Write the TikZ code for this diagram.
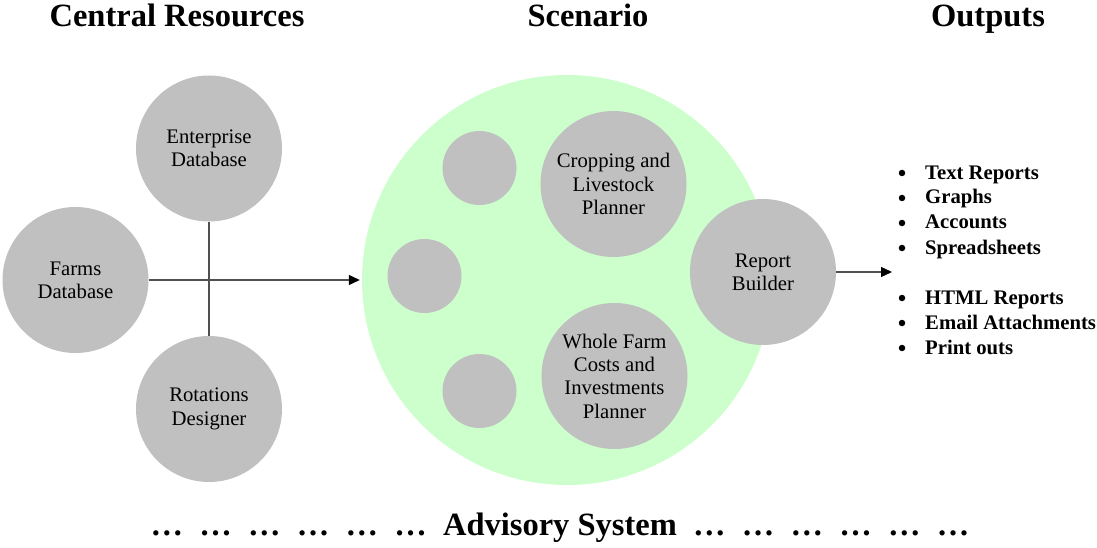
\documentclass[tikz,border=0pt]{standalone}
\usepackage{fontspec}
\setmainfont{Liberation Serif}
\usetikzlibrary{arrows.meta}
\definecolor{discgray}{HTML}{C0C0C0}
\definecolor{scengreen}{HTML}{CCFFCC}
\definecolor{linegray}{HTML}{505050}
\tikzset{
  disc/.style={circle, fill=discgray, draw=none, inner sep=0pt, minimum size=#1, align=center,
    font=\fontsize{20.7}{23.3}\selectfont},
  disc/.default=146pt,
  bigdisc/.style={circle, fill=scengreen, draw=none, inner sep=0pt, minimum size=410pt},
  heading/.style={font=\fontsize{32.5}{36}\selectfont\bfseries, anchor=base, inner sep=0pt},
  item/.style={font=\fontsize{20.7}{23.3}\selectfont\bfseries, anchor=base west, inner sep=0pt},
  bul/.style={circle, fill=black, draw=none, inner sep=0pt, minimum size=6.5pt},
  conn/.style={draw=linegray, line width=1.3pt},
  arr/.style={conn, -{Triangle[length=11pt,width=10pt,fill=black,color=black]}},
}
\newcommand{\dotsgap}{\hspace{0.5em}}
\begin{document}
\begin{tikzpicture}[x=1pt,y=-1pt]
\useasboundingbox (0,0) rectangle (1097,548);
% headings
\node[heading] (hcent) at (177,26.5) {Central Resources};
\node[heading] (hscen) at (588,26.5) {Scenario};
\node[heading] (hout) at (988,26.5) {Outputs};
% central resources
\node[disc] (ent) at (209,148.5) {Enterprise\\Database};
\node[disc] (farms) at (75.5,280) {Farms\\Database};
\node[disc] (rot) at (209,409) {Rotations\\Designer};
% scenario
\node[bigdisc] (scen) at (567,280) {};
\node[disc=74pt] (s1) at (479.5,168) {};
\node[disc=74pt] (s2) at (424.5,276) {};
\node[disc=74pt] (s3) at (479.5,391) {};
\node[disc] (crop) at (613.5,184) {Cropping and\\Livestock\\Planner};
\node[disc] (whole) at (614.5,376) {Whole Farm\\Costs and\\Investments\\Planner};
\node[disc] (rb) at (763,272) {Report\\Builder};
% connectors
\draw[conn] (ent.south) -- (rot.north);
\draw[arr, shorten >=2pt] (farms.east) -- (scen.west);
\coordinate (outend) at (892,272);
\draw[arr] (rb.east) -- (outend);
% outputs
\foreach \t/\y [count=\i] in {Text Reports/179, Graphs/204, Accounts/229, Spreadsheets/254, HTML Reports/304, Email Attachments/329, Print outs/354}{
  \node[bul] (b\i) at (902,\y-6) {};
  \node[item] (o\i) at (925,\y) {\t};
}
% bottom
\node[heading] (adv) at (560,535) {…\dotsgap…\dotsgap…\dotsgap…\dotsgap…\dotsgap…\dotsgap Advisory System\dotsgap…\dotsgap…\dotsgap…\dotsgap…\dotsgap…\dotsgap…};
\end{tikzpicture}
\end{document}
